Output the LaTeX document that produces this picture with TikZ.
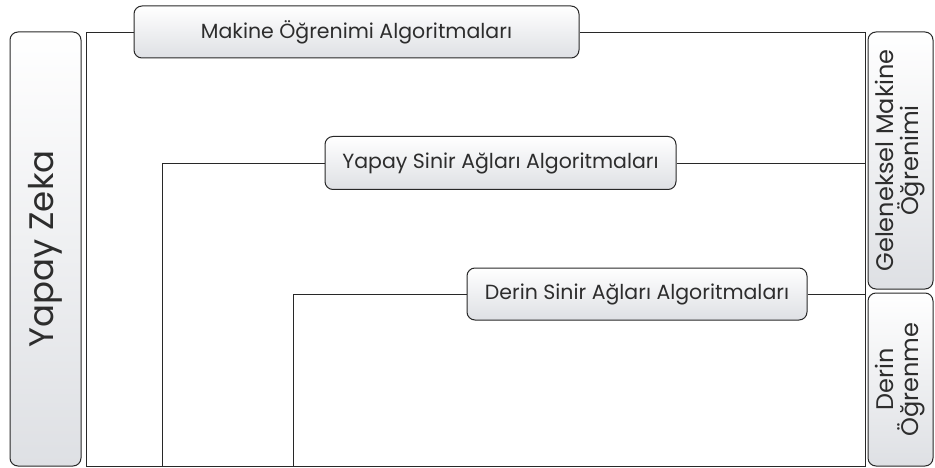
\documentclass[tikz,border=0pt]{standalone}
\usepackage{fontspec}
\setmainfont{Poppins}
\usepackage{tikz}
\usetikzlibrary{positioning, shapes.misc}
\definecolor{myline}{RGB}{40,40,40}
\definecolor{mytext}{RGB}{45,45,45}
\definecolor{myshade}{RGB}{222,224,228}

\tikzset{
    algbox/.style={draw=myline, line width=1pt, rounded corners=8pt, top color=white, bottom color=myshade,
        inner sep=0pt, text=mytext, font=\fontsize{20.5}{22}\selectfont},
    sidebox/.style={algbox, rotate=90, align=center, font=\fontsize{24}{25}\selectfont},
    frame/.style={draw=myline, line width=0.9pt}
}

\begin{document}
\begin{tikzpicture}[x=1pt, y=-1pt]
    \useasboundingbox (0,0) rectangle (935,468);

    % Side labels
    \node[sidebox, minimum width=434pt, minimum height=71pt, font=\fontsize{34}{36}\selectfont] (yz) at (45.5,249) {Yapay Zeka};
    \node[sidebox, minimum width=257pt, minimum height=65pt] (gm) at (900.5,160.5) {Geleneksel Makine\\Öğrenimi};
    \node[sidebox, minimum width=173pt, minimum height=65pt] (do) at (900.5,379.5) {Derin\\Öğrenme};

    % Algorithm boxes
    \node[algbox, minimum width=445pt, minimum height=52pt] (mo) at (356.5,32) {Makine Öğrenimi Algoritmaları};
    \node[algbox, minimum width=351pt, minimum height=53pt] (ysa) at (500.5,163) {Yapay Sinir Ağları Algoritmaları};
    \node[algbox, minimum width=340pt, minimum height=52pt] (dsa) at (637,294) {Derin Sinir Ağları Algoritmaları};

    % Frame corners
    \coordinate (moL) at (86,466);
    \coordinate (ysaL) at (162,466);
    \coordinate (dsaL) at (293,466);
    \coordinate (bR) at (865,466);

    % Frames
    \draw[frame] (mo.west) -| (moL) -- (bR) |- (mo.east);
    \draw[frame] (ysa.west) -| (ysaL);
    \draw[frame] (ysa.east) -- (ysa.east -| bR);
    \draw[frame] (dsa.west) -| (dsaL);
    \draw[frame] (dsa.east) -- (dsa.east -| bR);
\end{tikzpicture}
\end{document}
